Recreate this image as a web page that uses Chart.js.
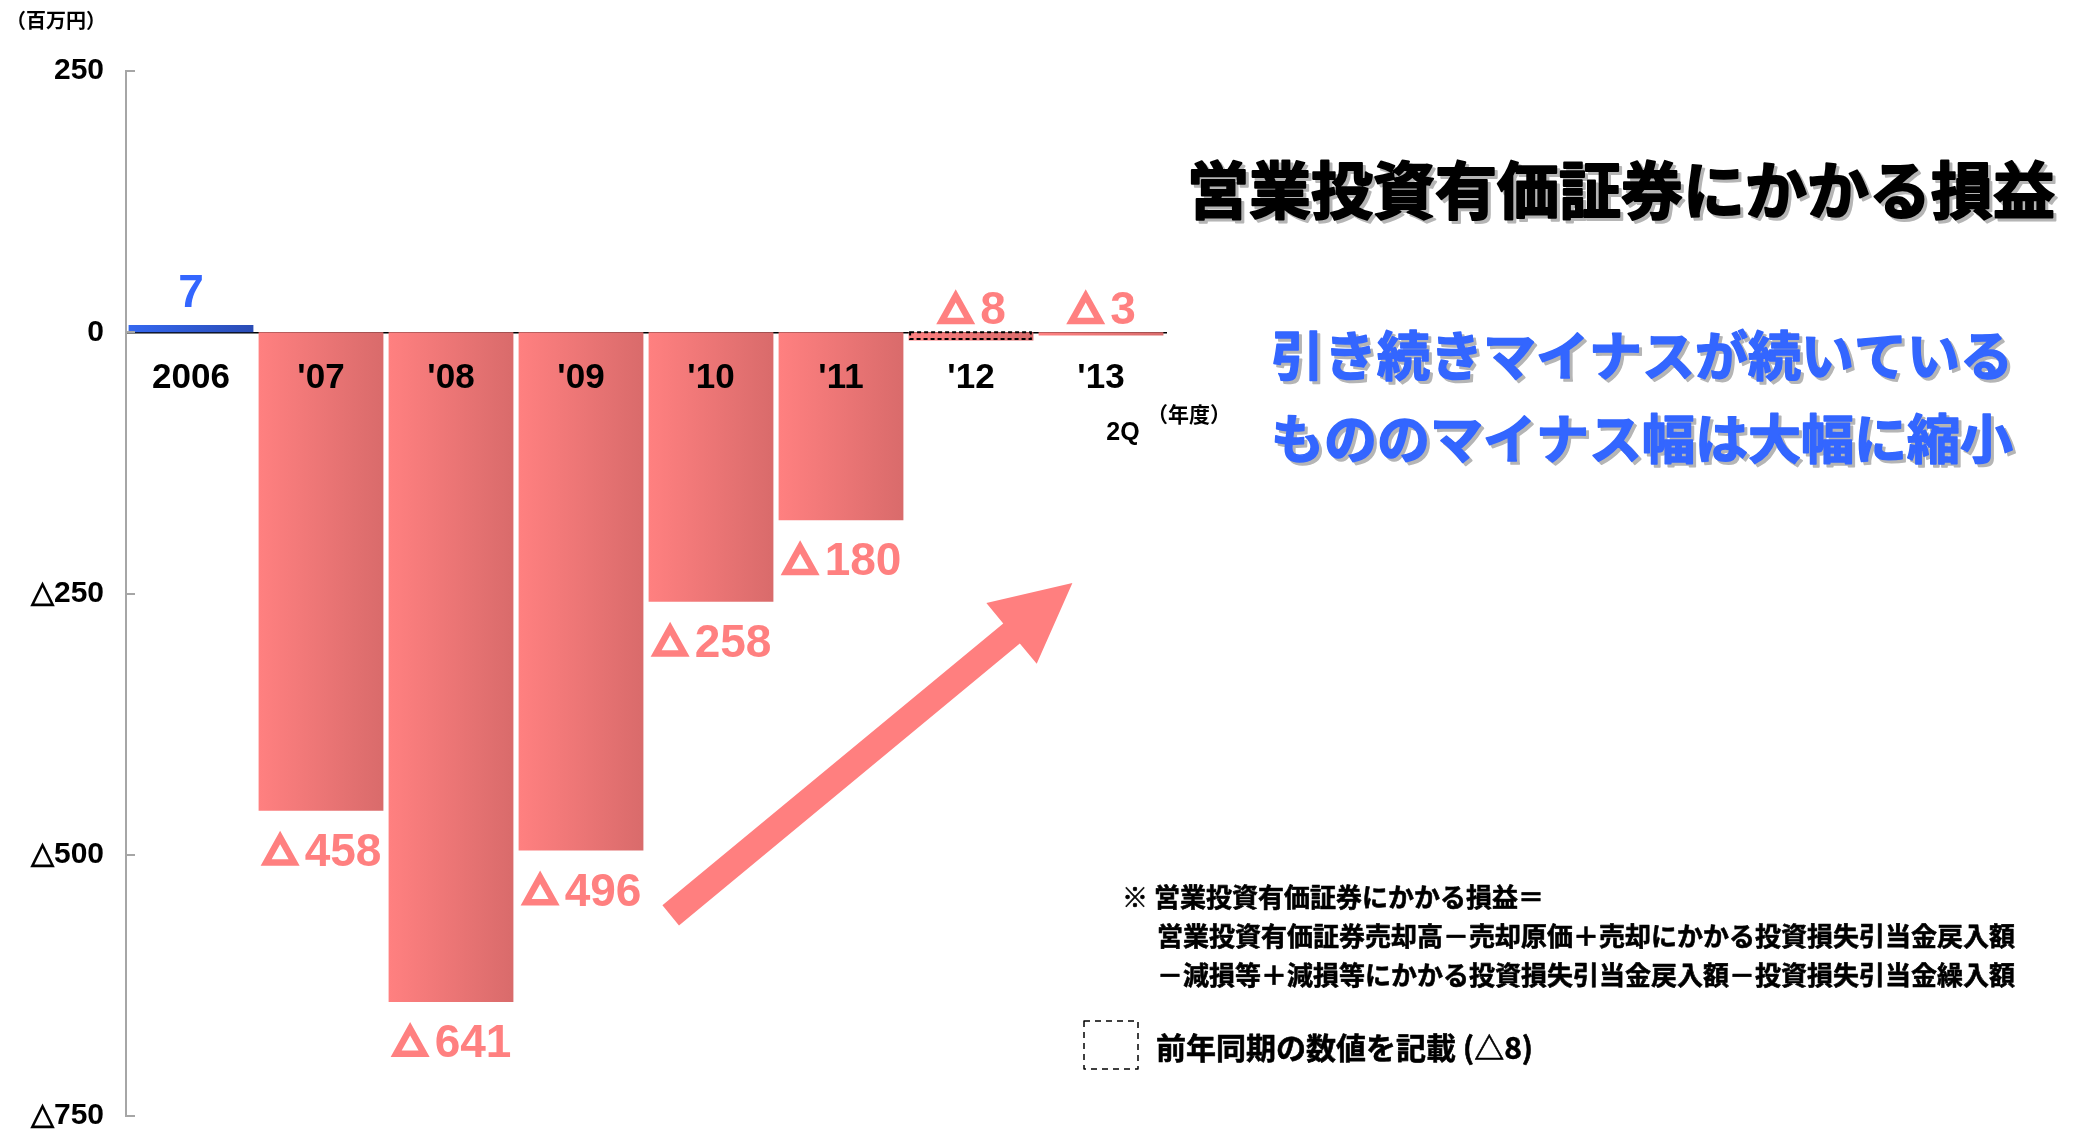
<!DOCTYPE html>
<html><head><meta charset="utf-8">
<script src="https://cdn.jsdelivr.net/npm/chart.js@4.4.1/dist/chart.umd.min.js"></script>
<style>html,body{margin:0;padding:0;background:#fff;}canvas{display:block;}</style>
</head><body>
<canvas id="c" width="2083" height="1131"></canvas>
<script>
// ---- data ----
const categories = ['2006', "'07", "'08", "'09", "'10", "'11", "'12", "'13"];
const values = [7, -458, -641, -496, -258, -180, -8, -3];
const priorYearFigure = [false, false, false, false, false, false, true, false];
const yTicks = [250, 0, -250, -500, -750];
const unitLabel = '（百万円）';
const yearLabel = '（年度）';
const lastCatSub = '2Q';
const titleText = '営業投資有価証券にかかる損益';
const messageLines = ['引き続きマイナスが続いている', 'もののマイナス幅は大幅に縮小'];
const noteLines = [
  '※ 営業投資有価証券にかかる損益＝',
  '営業投資有価証券売却高－売却原価＋売却にかかる投資損失引当金戻入額',
  '－減損等＋減損等にかかる投資損失引当金戻入額－投資損失引当金繰入額'
];
const legendText = '前年同期の数値を記載 (△8)';
const arrowFrom = {x: 3.69, y: -558};
const arrowTo = {x: 6.78, y: -240};

// ---- styles ----
const BAR_PCT = 0.96;
const PINK_L = '#ff8080', PINK_R = '#d96b6b', BLUE_L = '#3568f0', BLUE_R = '#2a4cb5';
const PINK_TXT = '#ff8080', BLUE_TXT = '#3366ff';
const JP = '"Noto Sans CJK JP", "Noto Sans CJK SC", sans-serif';
const NUM = '"Liberation Sans", Arial, sans-serif';

function fmt(v) { return v < 0 ? '△' + (-v) : String(v); }

function barFill(context) {
  const chart = context.chart;
  const xs = chart.scales.x;
  const v = context.raw;
  const pos = v >= 0;
  if (!xs || !chart.chartArea) return pos ? BLUE_L : PINK_L;
  const cx = xs.getPixelForValue(context.dataIndex);
  const w = (chart.chartArea.right - chart.chartArea.left) / categories.length * BAR_PCT;
  const g = chart.ctx.createLinearGradient(cx - w / 2, 0, cx + w / 2, 0);
  g.addColorStop(0, pos ? BLUE_L : PINK_L);
  g.addColorStop(1, pos ? BLUE_R : PINK_R);
  return g;
}

function drawArrow(ctx, x1, y1, x2, y2, shaftW, headW, headL) {
  const dx = x2 - x1, dy = y2 - y1, L = Math.hypot(dx, dy);
  const ux = dx / L, uy = dy / L, nx = -uy, ny = ux;
  const bx = x2 - ux * headL, by = y2 - uy * headL;
  ctx.beginPath();
  ctx.moveTo(x1 + nx * shaftW / 2, y1 + ny * shaftW / 2);
  ctx.lineTo(bx + nx * shaftW / 2, by + ny * shaftW / 2);
  ctx.lineTo(bx + nx * headW / 2, by + ny * headW / 2);
  ctx.lineTo(x2, y2);
  ctx.lineTo(bx - nx * headW / 2, by - ny * headW / 2);
  ctx.lineTo(bx - nx * shaftW / 2, by - ny * shaftW / 2);
  ctx.lineTo(x1 - nx * shaftW / 2, y1 - ny * shaftW / 2);
  ctx.closePath();
  ctx.fill();
}

function drawTriangleGlyph(ctx, x, baseline, w, h, t) {
  const V = [[x, baseline], [x + w, baseline], [x + w / 2, baseline - h]];
  const s = Math.hypot(w / 2, h);
  const r = w * h / (w + 2 * s);
  const I = [x + w / 2, baseline - r];
  const k = (r - t) / r;
  const inner = V.map(p => [I[0] + k * (p[0] - I[0]), I[1] + k * (p[1] - I[1])]);
  ctx.beginPath();
  ctx.moveTo(V[0][0], V[0][1]); ctx.lineTo(V[1][0], V[1][1]); ctx.lineTo(V[2][0], V[2][1]); ctx.closePath();
  ctx.moveTo(inner[0][0], inner[0][1]); ctx.lineTo(inner[2][0], inner[2][1]); ctx.lineTo(inner[1][0], inner[1][1]); ctx.closePath();
  ctx.fill('evenodd');
}

function heavyText(ctx, text, x, y, color, shadow, off, stroke) {
  ctx.lineJoin = 'round';
  if (shadow) {
    ctx.fillStyle = shadow; ctx.strokeStyle = shadow; ctx.lineWidth = stroke;
    ctx.fillText(text, x + off, y + off);
    if (stroke) ctx.strokeText(text, x + off, y + off);
  }
  ctx.fillStyle = color; ctx.strokeStyle = color; ctx.lineWidth = stroke;
  ctx.fillText(text, x, y);
  if (stroke) ctx.strokeText(text, x, y);
}

function drawValueLabel(ctx, v, cx, baseline) {
  const num = String(Math.abs(v));
  ctx.textBaseline = 'alphabetic';
  ctx.textAlign = 'left';
  ctx.font = 'bold 46px ' + NUM;
  const wNum = ctx.measureText(num).width;
  if (v < 0) {
    const triW = 39, triH = 35, gap = 5;
    const x0 = cx - (triW + gap + wNum) / 2;
    drawTriangleGlyph(ctx, x0, baseline, triW, triH, 6.5);
    ctx.fillText(num, x0 + triW + gap, baseline);
  } else {
    ctx.fillText(num, cx - wNum / 2, baseline);
  }
}

const decor = {
  id: 'decor',
  afterDatasetsDraw(chart) {
    const ctx = chart.ctx;
    const meta = chart.getDatasetMeta(0);
    ctx.save();
    // dashed outline for prior-year figure
    meta.data.forEach((el, i) => {
      if (!priorYearFigure[i]) return;
      const top = Math.min(el.y, el.base), bot = Math.max(el.y, el.base);
      ctx.setLineDash([4, 3]);
      ctx.strokeStyle = '#000';
      ctx.lineWidth = 2;
      ctx.strokeRect(el.x - el.width / 2 + 1.5, top, el.width - 4, bot - top - 1.5);
      ctx.setLineDash([]);
    });
    // value labels
    meta.data.forEach((el, i) => {
      const v = values[i];
      ctx.fillStyle = v >= 0 ? BLUE_TXT : PINK_TXT;
      let y;
      if (v >= 0) y = el.y - 18;
      else if (v > -50) y = el.base - 8;
      else y = el.y + 55;
      drawValueLabel(ctx, v, el.x, y);
    });
    ctx.restore();
  },
  afterDraw(chart) {
    const ctx = chart.ctx;
    const xs = chart.scales.x, ys = chart.scales.y;
    const ca = chart.chartArea;
    ctx.save();
    // y tick marks (inside)
    ctx.strokeStyle = '#a6a6a6';
    ctx.lineWidth = 2;
    yTicks.forEach(v => {
      const y = Math.round(ys.getPixelForValue(v));
      ctx.beginPath();
      ctx.moveTo(ca.left, y);
      ctx.lineTo(ca.left + 9, y);
      ctx.stroke();
    });
    // arrow
    ctx.fillStyle = '#ff7f7f';
    drawArrow(ctx, xs.getPixelForValue(arrowFrom.x), ys.getPixelForValue(arrowFrom.y),
      xs.getPixelForValue(arrowTo.x), ys.getPixelForValue(arrowTo.y), 26, 79, 79);
    // unit label
    ctx.textBaseline = 'middle';
    ctx.textAlign = 'left';
    ctx.fillStyle = '#000';
    ctx.font = 'bold 20px ' + JP;
    ctx.fillText(unitLabel, 6, 20);
    // 2Q and year label
    const lastX = xs.getPixelForValue(categories.length - 1);
    ctx.font = 'bold 25px ' + NUM;
    ctx.textAlign = 'center';
    ctx.fillText(lastCatSub, lastX + 22, 433);
    ctx.font = 'bold 21px ' + JP;
    ctx.textAlign = 'left';
    ctx.fillText(yearLabel, lastX + 46, 414);
    // title
    ctx.font = 'bold 62px ' + JP;
    ctx.textAlign = 'right';
    heavyText(ctx, titleText, 2055, 190, '#000', '#b5b5b5', 3, 2);
    // message
    ctx.font = 'bold 53px ' + JP;
    ctx.textAlign = 'left';
    heavyText(ctx, messageLines[0], 1271, 356, BLUE_TXT, '#b5b5b5', 3, 1.5);
    heavyText(ctx, messageLines[1], 1271, 439, BLUE_TXT, '#b5b5b5', 3, 1.5);
    // notes
    ctx.font = 'bold 26px ' + JP;
    heavyText(ctx, noteLines[0], 1122, 897, '#000', null, 0, 0.6);
    heavyText(ctx, noteLines[1], 1157, 936, '#000', null, 0, 0.6);
    heavyText(ctx, noteLines[2], 1157, 975, '#000', null, 0, 0.6);
    // legend
    ctx.setLineDash([6, 5]);
    ctx.strokeStyle = '#000';
    ctx.lineWidth = 1.5;
    ctx.strokeRect(1084, 1021, 54, 48);
    ctx.setLineDash([]);
    ctx.font = 'bold 30px ' + JP;
    heavyText(ctx, legendText, 1156, 1048, '#000', null, 0, 0.6);
    ctx.restore();
  }
};

new Chart(document.getElementById('c'), {
  type: 'bar',
  data: {
    labels: categories,
    datasets: [{
      data: values,
      backgroundColor: barFill,
      borderWidth: 0,
      barPercentage: BAR_PCT,
      categoryPercentage: 1
    }]
  },
  options: {
    responsive: false,
    devicePixelRatio: 1,
    animation: false,
    events: [],
    layout: {padding: {top: 71, right: 917, bottom: 15, left: 0}},
    plugins: {legend: {display: false}, tooltip: {enabled: false}},
    scales: {
      x: {
        position: {y: 0},
        offset: true,
        afterFit: s => { s.height = 0; },
        grid: {display: false, drawTicks: false},
        border: {display: true, color: '#000', width: 1.5},
        ticks: {z: 1, padding: 25, color: '#000', maxRotation: 0, autoSkip: false,
          font: {family: NUM, size: 35, weight: 'bold'}}
      },
      y: {
        min: -750, max: 250,
        afterBuildTicks: s => { s.ticks = yTicks.map(v => ({value: v})); },
        afterFit: s => { s.width = 126; },
        grid: {display: false, drawTicks: true, tickLength: 22},
        border: {display: true, color: '#a6a6a6', width: 2},
        ticks: {padding: 0, color: '#000', font: {family: NUM, size: 30, weight: 'bold', lineHeight: 1},
          callback: v => fmt(v)}
      }
    }
  },
  plugins: [decor]
});
</script>
</body></html>
